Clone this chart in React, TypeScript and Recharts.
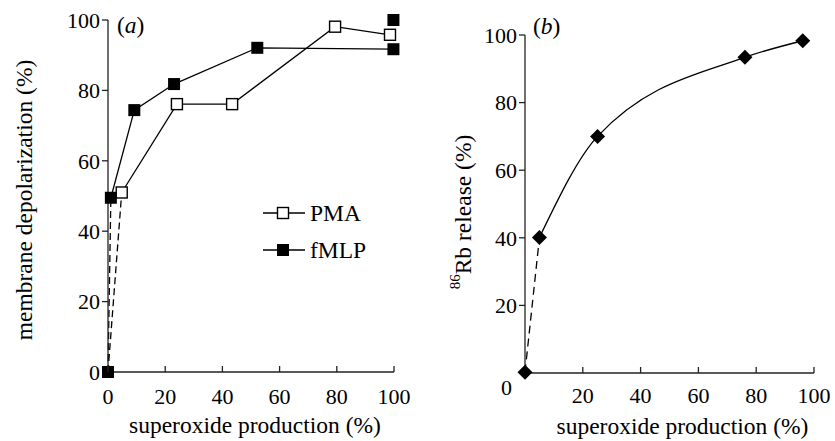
import React from 'react';
import { LineChart, Line, XAxis, YAxis, Legend, Customized } from 'recharts';

const FONT = '"Liberation Serif", "Times New Roman", Times, serif';
const TICK_FS = 22;
const LABEL_FS = 23.5;

// Panel (a)
const xTicksA = [0, 20, 40, 60, 80, 100];
const yTicksA = [0, 20, 40, 60, 80, 100];
const pmaX = [4.8, 24.1, 43.4, 79.4, 98.6];
const pmaY = [51.0, 76.1, 76.1, 98.1, 95.8];
const fmlpX = [1.0, 9.2, 23.1, 52.2, 99.8];
const fmlpY = [49.5, 74.4, 81.8, 92.1, 91.7];
const originX = 0;
const originY = 0;
const fmlpTopX = 99.8;
const fmlpTopY = 100;

// Panel (b)
const xTicksB = [20, 40, 60, 80, 100];
const yTicksB = [0, 20, 40, 60, 80, 100];
const rbX = [0, 5.0, 25.1, 76.1, 96.1];
const rbY = [0.2, 40.1, 70.0, 93.4, 98.3];

const toPts = (xs: number[], ys: number[]) => xs.map((x, i) => ({ x, y: ys[i] }));

const pmaSolid = toPts(pmaX, pmaY);
const pmaDashed = [{ x: originX, y: originY }, pmaSolid[0]];
const fmlpSolid = toPts(fmlpX, fmlpY);
const fmlpDashed = [{ x: originX, y: originY }, fmlpSolid[0]];
const fmlpExtra = [{ x: originX, y: originY }, { x: fmlpTopX, y: fmlpTopY }];

const rbAll = toPts(rbX, rbY);
const rbSolid = rbAll.slice(1);
const rbDashed = rbAll.slice(0, 2);

const AXIS = '#222';

const OpenSquare = (props: any) => {
  const { cx, cy } = props;
  if (cx == null || cy == null) return <g />;
  return <rect x={cx - 5.5} y={cy - 5.5} width={11} height={11} fill="#fff" stroke="#000" strokeWidth={1.4} />;
};
const FilledSquare = (props: any) => {
  const { cx, cy } = props;
  if (cx == null || cy == null) return <g />;
  return <rect x={cx - 6} y={cy - 6} width={12} height={12} fill="#000" stroke="none" />;
};
const Diamond = (props: any) => {
  const { cx, cy } = props;
  if (cx == null || cy == null) return <g />;
  const r = 7.5;
  return <path d={`M${cx},${cy - r}L${cx + r},${cy}L${cx},${cy + r}L${cx - r},${cy}Z`} fill="#000" />;
};

const makeXTick = (labelDy: number) => (props: any) => {
  const { x, y, payload } = props;
  return (
    <g>
      <line x1={x} x2={x} y1={y} y2={y - 6} stroke={AXIS} strokeWidth={1.3} />
      <text x={x} y={y + labelDy} textAnchor="middle" fontFamily={FONT} fontSize={TICK_FS} fill="#000">
        {payload.value}
      </text>
    </g>
  );
};

const YTickA = (props: any) => {
  const { x, y, payload } = props;
  return (
    <text x={x} y={y} dy="0.35em" textAnchor="end" fontFamily={FONT} fontSize={TICK_FS} fill="#000">
      {payload.value}
    </text>
  );
};

const YTickB = (props: any) => {
  const { x, y, payload } = props;
  const isZero = payload.value === 0;
  return (
    <text x={isZero ? x - 5 : x} y={isZero ? y + 14 : y} dy="0.35em" textAnchor="end" fontFamily={FONT} fontSize={TICK_FS} fill="#000">
      {payload.value}
    </text>
  );
};

const YLabelA = (props: any) => {
  const vb = props.viewBox || { x: 0, y: 20, width: 108, height: 352 };
  const cx = vb.x + 24;
  const cy = vb.y + vb.height / 2 + 4;
  return (
    <text x={cx} y={cy} transform={`rotate(-90 ${cx} ${cy})`} textAnchor="middle" dominantBaseline="central" fontFamily={FONT} fontSize={LABEL_FS} fill="#000">
      membrane depolarization (%)
    </text>
  );
};

const YLabelB = (props: any) => {
  const vb = props.viewBox || { x: 0, y: 35, width: 105, height: 338 };
  const cx = vb.x + 43;
  const cy = vb.y + vb.height / 2 + 8;
  return (
    <text x={cx} y={cy} transform={`rotate(-90 ${cx} ${cy})`} textAnchor="middle" dominantBaseline="central" fontFamily={FONT} fontSize={LABEL_FS} fill="#000">
      <tspan fontSize={15} dy={-8}>86</tspan>
      <tspan dy={8}>Rb release (%)</tspan>
    </text>
  );
};

const makeXLabel = (dx: number) => (props: any) => {
  const vb = props.viewBox || { x: 0, y: 0, width: 0, height: 0 };
  const cx = vb.x + vb.width / 2 + dx;
  return (
    <text x={cx} y={vb.y + 61} textAnchor="middle" fontFamily={FONT} fontSize={LABEL_FS} fill="#000">
      superoxide production (%)
    </text>
  );
};

const legendContent = (props: any) => {
  const seen = new Set<string>();
  const items = (props.payload || []).filter((p: any) => {
    if (p.type === 'none' || !p.value || seen.has(p.value)) return false;
    seen.add(p.value);
    return true;
  });
  return (
    <svg width={120} height={80} style={{ display: 'block', overflow: 'visible' }}>
      {items.map((p: any, i: number) => {
        const cy = 15 + i * 37;
        return (
          <g key={p.value}>
            <line x1={0} x2={42} y1={cy} y2={cy} stroke="#000" strokeWidth={1.3} />
            {p.value === 'PMA' ? <OpenSquare cx={20} cy={cy} /> : <FilledSquare cx={20} cy={cy} />}
            <text x={47} y={cy} dy="0.35em" fontFamily={FONT} fontSize={LABEL_FS} fill="#000">
              {p.value}
            </text>
          </g>
        );
      })}
    </svg>
  );
};

const PanelLabel = (text: string, x: number, y: number) => () => (
  <text x={x} y={y} fontFamily={FONT} fontSize={LABEL_FS} fill="#000">
    (<tspan fontStyle="italic">{text}</tspan>)
  </text>
);

export default function App() {
  return (
    <div style={{ position: 'absolute', left: 0, top: 0, width: 835, height: 441, background: '#fff' }}>
      <div style={{ position: 'absolute', left: 0, top: 0 }}>
        <LineChart width={420} height={441} margin={{ top: 20, right: 26, bottom: 29, left: 0 }}>
          <XAxis
            type="number"
            dataKey="x"
            domain={[0, 100]}
            ticks={xTicksA}
            height={40}
            stroke={AXIS}
            strokeWidth={1.3}
            tickLine={false}
            tickSize={0}
            tickMargin={0}
            tick={makeXTick(32)}
            label={makeXLabel(4)}
          />
          <YAxis
            type="number"
            dataKey="y"
            domain={[0, 100]}
            ticks={yTicksA}
            width={108}
            stroke={AXIS}
            strokeWidth={1.3}
            tickSize={6}
            tickMargin={2}
            tick={YTickA}
            label={YLabelA}
          />
          <Line data={pmaDashed} dataKey="y" stroke="#000" strokeWidth={1.3} strokeDasharray="7 4" dot={false} legendType="none" isAnimationActive={false} />
          <Line data={pmaSolid} dataKey="y" name="PMA" stroke="#000" strokeWidth={1.3} dot={OpenSquare} isAnimationActive={false} />
          <Line data={fmlpDashed} dataKey="y" stroke="#000" strokeWidth={1.3} strokeDasharray="7 4" dot={false} legendType="none" isAnimationActive={false} />
          <Line data={fmlpSolid} dataKey="y" name="fMLP" stroke="#000" strokeWidth={1.3} dot={FilledSquare} isAnimationActive={false} />
          <Line data={fmlpExtra} dataKey="y" stroke="none" dot={FilledSquare} legendType="none" isAnimationActive={false} />
          <Legend layout="vertical" align="center" verticalAlign="middle" content={legendContent} wrapperStyle={{ left: 263, top: 198, width: 120 }} />
          <Customized component={PanelLabel('a', 117, 33)} />
        </LineChart>
      </div>
      <div style={{ position: 'absolute', left: 420, top: 0 }}>
        <LineChart width={415} height={441} margin={{ top: 35, right: 21, bottom: 28, left: 0 }}>
          <XAxis
            type="number"
            dataKey="x"
            domain={[0, 100]}
            ticks={xTicksB}
            height={40}
            stroke={AXIS}
            strokeWidth={1.3}
            tickLine={false}
            tickSize={0}
            tickMargin={0}
            tick={makeXTick(30)}
            label={makeXLabel(13)}
          />
          <YAxis
            type="number"
            dataKey="y"
            domain={[0, 100]}
            ticks={yTicksB}
            width={105}
            stroke={AXIS}
            strokeWidth={1.3}
            tickSize={6}
            tickMargin={2}
            tick={YTickB}
            label={YLabelB}
          />
          <Line data={rbDashed} dataKey="y" stroke="#000" strokeWidth={1.3} strokeDasharray="8 5" dot={false} isAnimationActive={false} />
          <Line data={rbSolid} type="monotone" dataKey="y" stroke="#000" strokeWidth={1.3} dot={false} isAnimationActive={false} />
          <Line data={rbAll} dataKey="y" stroke="none" dot={Diamond} isAnimationActive={false} />
          <Customized component={PanelLabel('b', 113, 34)} />
        </LineChart>
      </div>
    </div>
  );
}
